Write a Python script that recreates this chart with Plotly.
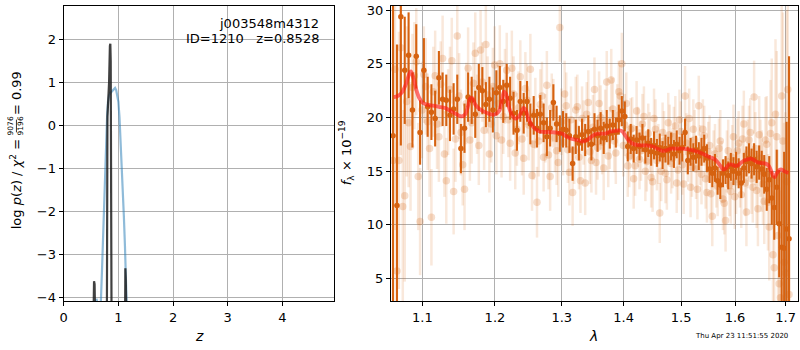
import plotly.graph_objects as go
from plotly.subplots import make_subplots

# ---------------- left panel: redshift fit ----------------
pz_z = [0.58, 0.60, 0.64, 0.68, 0.70, 0.72, 0.74, 0.76, 0.78, 0.795, 0.81, 0.83, 0.86, 0.89, 0.92, 0.94,
        0.96, 0.98, 1.00, 1.02, 1.04, 1.06, 1.08, 1.10, 1.12, 1.14, 1.15]
pz_logp = [-4.3, -4.04, -4.3, -4.1, -3.4, -2.5, -1.6, -0.8, -0.1, 0.25, 0.55, 0.70, 0.76, 0.80, 0.86, 0.87,
           0.82, 0.72, 0.55, 0.20, -0.30, -0.90, -1.50, -2.10, -2.80, -3.60, -4.10]

chi_z = [0.545, 0.555, 0.565, 0.575, 0.79, 0.80, 0.83, 0.845, 0.8528, 0.86, 0.875, 1.122, 1.128, 1.136, 1.145]
chi_logp = [-4.5, -3.63, -3.70, -4.5, -4.5, 0.2, 1.0, 1.85, 1.90, 1.5, -4.5, -4.5, -3.33, -3.6, -4.5]

# ---------------- right panel: spectrum ----------------
lam = [1.062, 1.067, 1.072, 1.077, 1.082, 1.087, 1.092, 1.097, 1.102, 1.107, 1.112, 1.117, 1.122, 1.127,
       1.132, 1.137, 1.142, 1.147, 1.152, 1.157, 1.162, 1.167, 1.172, 1.177, 1.182, 1.187, 1.192, 1.197,
       1.202, 1.207, 1.212, 1.217, 1.222, 1.227, 1.232, 1.237, 1.242, 1.247, 1.252, 1.257, 1.262, 1.267,
       1.272, 1.277, 1.282, 1.287, 1.292, 1.297, 1.302, 1.307, 1.312, 1.317, 1.322, 1.327, 1.332, 1.337,
       1.342, 1.347, 1.352, 1.357, 1.362, 1.367, 1.372, 1.377, 1.382, 1.387, 1.392, 1.397, 1.402, 1.407,
       1.412, 1.417, 1.422, 1.427, 1.432, 1.437, 1.442, 1.447, 1.452, 1.457, 1.462, 1.467, 1.472, 1.477,
       1.482, 1.487, 1.492, 1.497, 1.502, 1.507, 1.512, 1.517, 1.522, 1.527, 1.532, 1.537, 1.542, 1.547,
       1.552, 1.557, 1.562, 1.567, 1.572, 1.577, 1.582, 1.587, 1.592, 1.597, 1.602, 1.607, 1.612, 1.617,
       1.622, 1.627, 1.632, 1.637, 1.642, 1.647, 1.652, 1.657, 1.662, 1.667, 1.672, 1.677, 1.682, 1.687,
       1.692, 1.697, 1.702, 1.707]

flux_bin = [18.3, 11.8, 29.4, 24.4, 25.8, 20.7, 25.7, 18.6, 24.4, 21.0, 20.5, 19.9, 23.7, 21.7,
            21.6, 20.2, 20.8, 21.7, 17.1, 19.0, 21.9, 21.6, 20.3, 22.8, 22.5, 21.2, 21.7, 20.7,
            22.3, 22.8, 21.5, 23.0, 21.8, 20.4, 18.8, 21.5, 20.4, 21.5, 19.4, 20.2, 19.0, 20.3,
            19.5, 18.2, 19.0, 21.4, 19.4, 18.5, 18.9, 18.8, 18.3, 15.7, 18.2, 17.6, 18.4, 17.9,
            18.7, 17.5, 18.9, 18.3, 19.0, 18.1, 19.2, 18.5, 19.3, 18.6, 19.8, 20.6, 20.1, 17.3,
            18.0, 17.1, 17.9, 17.3, 18.1, 17.0, 17.6, 16.8, 17.4, 16.7, 17.2, 16.5, 17.1, 16.9,
            17.3, 16.6, 17.5, 16.9, 17.2, 18.6, 16.0, 16.8, 16.3, 17.0, 16.4, 16.8, 17.1, 16.2,
            15.2, 14.8, 15.3, 14.1, 13.7, 14.8, 15.1, 14.6, 15.4, 15.0, 15.5, 14.8, 13.9, 15.3,
            15.9, 16.2, 15.7, 16.1, 15.4, 15.8, 15.2, 14.7, 13.3, 14.2, 12.5, 11.6, 13.5, 10.1,
            7.9, 7.8, 9.6, 8.7]
err_bin = [16, 15, 12, 5, 4, 3.5, 3, 3, 3, 2.8, 2.6, 2.6, 2.5, 2.5,
           2.4, 2.4, 2.4, 2.3, 2.3, 2.3, 2.3, 2.2, 2.2, 2.2, 2.2, 2.1, 2.1, 2.1,
           2.1, 2.0, 2.0, 2.0, 2.0, 2.0, 1.9, 1.9, 1.9, 1.9, 1.9, 1.8, 1.8, 1.8,
           1.8, 1.8, 1.7, 1.7, 1.7, 1.7, 1.7, 1.6, 1.6, 1.6, 1.6, 1.6, 1.5, 1.5,
           1.5, 1.5, 1.5, 1.5, 1.5, 1.5, 1.5, 1.4, 1.4, 1.4, 1.4, 1.4, 1.4, 1.4,
           1.4, 1.3, 1.3, 1.3, 1.3, 1.3, 1.3, 1.3, 1.3, 1.3, 1.3, 1.3, 1.3, 1.3,
           1.3, 1.3, 1.3, 1.3, 1.3, 1.3, 1.3, 1.3, 1.3, 1.3, 1.3, 1.3, 1.3, 1.3,
           1.3, 1.3, 1.3, 1.3, 1.3, 1.3, 1.3, 1.3, 1.3, 1.3, 1.3, 1.4, 1.4, 1.4,
           1.4, 1.4, 1.4, 1.5, 1.5, 1.6, 1.7, 1.8, 2.0, 2.2, 2.5, 3.0, 3.5, 5.0,
           7.0, 9.0, 10.0, 17.0]

flux_a = [16.0, 5.7, 26.5, 12.7, 19.5, 22.8, 25.2, 10.3, 24.0, 19.6, 10.7, 23.9, 18.2, 25.5,
          14.1, 22.6, 13.1, 27.6, 18.6, 13.3, 24.6, 19.5, 26.0, 17.4, 23.3, 26.8, 16.6, 22.9,
          18.3, 25.0, 20.1, 24.4, 17.6, 22.2, 18.9, 23.8, 16.2, 21.6, 24.5, 17.5, 12.1, 21.2,
          16.3, 23.0, 14.5, 20.4, 16.9, 28.4, 17.7, 21.1, 14.9, 13.0, 20.7, 16.3, 19.9, 13.9,
          21.4, 16.0, 22.6, 17.2, 20.0, 15.3, 23.3, 18.1, 20.8, 16.7, 22.4, 25.0, 19.3, 15.5,
          18.9, 14.3, 20.6, 16.1, 19.4, 15.0, 18.5, 14.4, 19.9, 16.0, 11.1, 18.6, 14.8, 19.5,
          15.7, 18.2, 13.9, 19.8, 15.6, 22.0, 16.8, 13.5, 18.9, 15.2, 21.1, 14.7, 18.3, 13.0,
          17.4, 10.8, 16.6, 13.6, 17.8, 12.4, 10.4, 16.9, 13.1, 18.2, 14.0, 17.6, 12.8, 19.4,
          11.2, 17.9, 14.3, 21.9, 13.2, 18.4, 15.0, 12.2, 17.5, 9.8, 19.5, 6.0, 18.2, 4.5,
          22.0, 6.5, 14.0, 3.5]
err_a = [14, 12, 10, 8, 6, 5, 5, 5, 4.5, 4.5, 4.5, 4.2, 4.2, 4,
         4, 4, 4, 4, 4, 3.8, 3.8, 3.8, 3.8, 3.7, 3.7, 3.7, 3.6, 3.6,
         3.6, 3.6, 3.5, 3.5, 3.5, 3.5, 3.4, 3.4, 3.4, 3.4, 3.3, 3.3, 3.3, 3.3,
         3.2, 3.2, 3.2, 3.2, 3.2, 3.2, 3.1, 3.1, 3.1, 3.1, 3.1, 3.0, 3.0, 3.0,
         3.0, 3.0, 3.0, 3.0, 3.0, 3.0, 2.9, 2.9, 2.9, 2.9, 2.9, 2.9, 2.9, 2.9,
         2.9, 2.8, 2.8, 2.8, 2.8, 2.8, 2.8, 2.8, 2.8, 2.8, 2.8, 2.8, 2.8, 2.8,
         2.8, 2.8, 2.8, 2.8, 2.8, 2.8, 2.8, 2.8, 2.8, 2.8, 2.8, 2.8, 2.8, 2.8,
         2.8, 2.8, 2.8, 2.8, 2.9, 2.9, 2.9, 2.9, 3.0, 3.0, 3.0, 3.0, 3.1, 3.1,
         3.2, 3.2, 3.3, 3.4, 3.5, 3.6, 3.8, 4, 4.5, 5, 6, 7, 8, 9,
         11, 13, 16, 18]

lam_b = [1.0645, 1.0695, 1.0745, 1.0795, 1.0845, 1.0895, 1.0945, 1.0995, 1.1045, 1.1095, 1.1145,
         1.1195, 1.1245, 1.1295, 1.1345, 1.1395, 1.1445, 1.1495, 1.1545, 1.1595, 1.1645, 1.1695,
         1.1745, 1.1795, 1.1845, 1.1895, 1.1945, 1.1995, 1.2045, 1.2095, 1.2145, 1.2195, 1.2245,
         1.2295, 1.2345, 1.2395, 1.2445, 1.2495, 1.2545, 1.2595, 1.2645, 1.2695, 1.2745, 1.2795,
         1.2845, 1.2895, 1.2945, 1.2995, 1.3045, 1.3095, 1.3145, 1.3195, 1.3245, 1.3295, 1.3345,
         1.3395, 1.3445, 1.3495, 1.3545, 1.3595, 1.3645, 1.3695, 1.3745, 1.3795, 1.3845, 1.3895,
         1.3945, 1.3995, 1.4045, 1.4095, 1.4145, 1.4195, 1.4245, 1.4295, 1.4345, 1.4395, 1.4445,
         1.4495, 1.4545, 1.4595, 1.4645, 1.4695, 1.4745, 1.4795, 1.4845, 1.4895, 1.4945, 1.4995,
         1.5045, 1.5095, 1.5145, 1.5195, 1.5245, 1.5295, 1.5345, 1.5395, 1.5445, 1.5495, 1.5545,
         1.5595, 1.5645, 1.5695, 1.5745, 1.5795, 1.5845, 1.5895, 1.5945, 1.5995, 1.6045, 1.6095,
         1.6145, 1.6195, 1.6245, 1.6295, 1.6345, 1.6395, 1.6445, 1.6495, 1.6545, 1.6595, 1.6645,
         1.6695, 1.6745, 1.6795, 1.6845, 1.6895, 1.6945, 1.6995, 1.7045]
flux_b = [24.5, 16.0, 11.7, 21.5, 17.3, 23.9, 14.5, 20.7, 22.9, 17.1, 22.4,
          19.4, 23.1, 16.6, 20.5, 25.3, 18.0, 22.0, 15.6, 21.3, 17.9, 23.2,
          20.3, 26.3, 18.8, 22.1, 19.4, 24.9, 21.3, 17.9, 22.9, 19.8, 24.6,
          16.7, 20.9, 18.0, 22.7, 19.3, 14.6, 20.4, 17.8, 22.0, 19.0, 16.5,
          20.9, 18.1, 15.8, 19.6, 22.2, 17.0, 19.8, 16.9, 21.0, 14.1, 18.6,
          20.3, 16.8, 19.1, 15.8, 21.3, 17.7, 19.6, 16.4, 23.5, 17.8, 20.2,
          22.0, 17.4, 21.3, 16.4, 19.0, 15.5, 18.2, 16.9, 20.1, 15.9, 17.7,
          14.0, 18.9, 16.6, 15.0, 17.8, 14.2, 18.4, 16.2, 19.2, 15.1, 18.7,
          13.8, 17.6, 19.9, 15.4, 17.9, 13.3, 16.5, 18.9, 14.3, 16.8, 12.9,
          16.0, 14.4, 17.1, 14.9, 12.0, 15.9, 13.7, 16.3, 12.6, 16.9, 14.6,
          18.0, 13.9, 16.6, 18.6, 13.5, 17.1, 11.5, 16.2, 13.8, 17.9, 12.1,
          18.5, 7.2, 20.3, 9.0, 3.2, 17.8, 5.5, 22.6]
err_b = [15, 12, 9, 7, 6, 5, 5, 4.5, 4.5, 4.5, 4.2,
         4.2, 4, 4, 4, 4, 4, 4, 3.8, 3.8, 3.8, 3.8,
         3.7, 3.7, 3.7, 3.6, 3.6, 3.6, 3.6, 3.5, 3.5, 3.5, 3.5,
         3.4, 3.4, 3.4, 3.4, 3.3, 3.3, 3.3, 3.3, 3.2, 3.2, 3.2,
         3.2, 3.2, 3.2, 3.1, 3.1, 3.1, 3.1, 3.1, 3.0, 3.0, 3.0,
         3.0, 3.0, 3.0, 3.0, 3.0, 3.0, 3.0, 2.9, 2.9, 2.9, 2.9,
         2.9, 2.9, 2.9, 2.9, 2.9, 2.8, 2.8, 2.8, 2.8, 2.8, 2.8,
         2.8, 2.8, 2.8, 2.8, 2.8, 2.8, 2.8, 2.8, 2.8, 2.8, 2.8,
         2.8, 2.8, 2.8, 2.8, 2.8, 2.8, 2.8, 2.8, 2.8, 2.8, 2.8,
         2.8, 2.8, 2.8, 2.9, 2.9, 2.9, 2.9, 3.0, 3.0, 3.0, 3.0,
         3.1, 3.1, 3.2, 3.2, 3.3, 3.4, 3.5, 3.6, 3.8, 4, 4.5,
         5, 6, 7, 8, 10, 12, 15, 17]

model_lam = [1.063, 1.068, 1.073, 1.078, 1.082, 1.085, 1.088, 1.092, 1.096, 1.100, 1.106, 1.114, 1.122,
             1.130, 1.138, 1.146, 1.153, 1.158, 1.162, 1.165, 1.168, 1.172, 1.178, 1.186, 1.194, 1.201,
             1.206, 1.210, 1.213, 1.216, 1.220, 1.225, 1.230, 1.235, 1.239, 1.242, 1.245, 1.249, 1.254,
             1.260, 1.266, 1.272, 1.280, 1.290, 1.300, 1.308, 1.316, 1.325, 1.333, 1.340, 1.347, 1.354,
             1.362, 1.370, 1.378, 1.386, 1.393, 1.398, 1.403, 1.408, 1.414, 1.422, 1.430, 1.440, 1.450,
             1.458, 1.466, 1.474, 1.482, 1.490, 1.500, 1.510, 1.520, 1.530, 1.540, 1.550, 1.558, 1.566,
             1.572, 1.578, 1.583, 1.588, 1.594, 1.600, 1.606, 1.612, 1.618, 1.625, 1.632, 1.638, 1.645,
             1.652, 1.660, 1.666, 1.671, 1.675, 1.678, 1.682, 1.687, 1.692, 1.697, 1.702, 1.706]
model_flux = [21.9, 22.0, 22.3, 23.0, 23.9, 24.3, 23.8, 22.6, 21.8, 21.4, 21.2, 21.1, 21.0,
              20.9, 20.6, 20.3, 20.1, 20.3, 21.1, 21.8, 21.8, 21.2, 20.8, 20.5, 20.3, 20.3,
              20.6, 21.6, 22.4, 22.2, 21.0, 20.2, 19.9, 20.1, 20.6, 20.9, 20.7, 19.9, 19.3,
              18.9, 18.7, 18.65, 18.65, 18.6, 18.5, 18.2, 18.0, 17.9, 17.75, 17.9, 18.2, 18.45,
              18.5, 18.5, 18.7, 18.75, 18.8, 18.7, 18.3, 17.9, 17.6, 17.45, 17.4, 17.4, 17.3,
              17.1, 16.9, 16.95, 17.1, 17.1, 17.1, 17.05, 16.95, 16.8, 16.6, 16.35, 16.2, 15.9,
              15.5, 15.15, 15.3, 15.6, 15.6, 15.5, 15.55, 15.8, 16.0, 16.1, 16.15, 16.0, 15.8,
              15.75, 15.7, 15.5, 15.0, 14.55, 14.45, 14.8, 15.1, 15.15, 15.0, 14.9, 14.85]

lam_ticks = [1.1, 1.2, 1.3, 1.4, 1.5, 1.6, 1.7]
lam_ticktext = ["1.1", "1.2", "1.3", "1.4", "1.5", "1.6", "1.7"]

obj_name = "j003548m4312"
obj_info = "ID=1210   z=0.8528"
stamp = "Thu Apr 23 11:51:55 2020"
ylab_main = "log <i>p</i>(<i>z</i>) / <i>χ</i><sup>2</sup> ="
ylab_frac = "9076<br>9196"
ylab_end = "= 0.99"

ORANGE = "rgb(214,98,16)"
FAINT_M = "rgba(214,98,16,0.22)"
FAINT_E = "rgba(214,98,16,0.15)"
FONT = "DejaVu Sans"

fig = make_subplots(rows=1, cols=2)

fig.add_trace(go.Scatter(x=pz_z, y=pz_logp, mode="lines",
                         line=dict(color="rgba(31,119,180,0.5)", width=2.2),
                         showlegend=False), row=1, col=1)
fig.add_trace(go.Scatter(x=chi_z, y=chi_logp, mode="lines",
                         line=dict(color="rgba(30,30,30,0.85)", width=2.2),
                         showlegend=False), row=1, col=1)

for lx, fy, ey in [(lam, flux_a, err_a), (lam_b, flux_b, err_b)]:
    fig.add_trace(go.Scatter(x=lx, y=fy, mode="markers",
                             marker=dict(color=FAINT_M, size=7.5),
                             error_y=dict(type="data", array=ey, color=FAINT_E, thickness=2.5, width=0),
                             showlegend=False), row=1, col=2)

fig.add_trace(go.Scatter(x=lam, y=flux_bin, mode="markers",
                         marker=dict(color=ORANGE, size=5.5),
                         error_y=dict(type="data", array=err_bin, color=ORANGE, thickness=2.1, width=0),
                         showlegend=False), row=1, col=2)

fig.add_trace(go.Scatter(x=model_lam, y=model_flux, mode="lines",
                         line=dict(color="rgba(255,25,25,0.62)", width=3.8, shape="spline"),
                         showlegend=False), row=1, col=2)

axis_common = dict(showline=True, linecolor="black", linewidth=1.2, mirror=True,
                   ticks="outside", ticklen=4, tickcolor="black", tickwidth=1,
                   showgrid=True, gridcolor="#b0b0b0", gridwidth=1, zeroline=False,
                   ticklabeloverflow="allow",
                   tickfont=dict(family=FONT, size=13, color="black"))

fig.update_xaxes(axis_common, row=1, col=1, range=[0, 4.95], tickvals=[0, 1, 2, 3, 4],
                 domain=[60 / 800, 332 / 800])
fig.update_yaxes(axis_common, row=1, col=1, range=[-4.09, 2.78], tickvals=[-4, -3, -2, -1, 0, 1, 2],
                 domain=[46 / 350, 347 / 350])
fig.update_xaxes(axis_common, row=1, col=2, type="log", range=[0.0251, 0.2369],
                 tickvals=lam_ticks, ticktext=lam_ticktext, domain=[389 / 800, 798 / 800])
fig.update_yaxes(axis_common, row=1, col=2, range=[2.9, 30.4], tickvals=[5, 10, 15, 20, 25, 30],
                 domain=[46 / 350, 347 / 350])

ann = [
    dict(text=obj_name, x=319 / 800, y=(350 - 21) / 350, xanchor="right", yanchor="middle",
         font=dict(family=FONT, size=13, color="black")),
    dict(text=obj_info, x=319 / 800, y=(350 - 36) / 350, xanchor="right", yanchor="middle",
         font=dict(family=FONT, size=13, color="black")),
    dict(text="<i>z</i>", x=196 / 800, y=(350 - 340) / 350, xanchor="center", yanchor="middle",
         font=dict(family=FONT, size=14, color="black")),
    dict(text="<i>λ</i>", x=592 / 800, y=(350 - 340) / 350, xanchor="center", yanchor="middle",
         font=dict(family=FONT, size=14, color="black")),
    dict(text=ylab_main, x=12 / 800, y=(350 - 185) / 350, xanchor="center", yanchor="middle",
         textangle=-90, font=dict(family=FONT, size=13, color="black")),
    dict(text=ylab_frac, x=12 / 800, y=(350 - 125) / 350, xanchor="center", yanchor="middle",
         textangle=-90, font=dict(family=FONT, size=7.5, color="black")),
    dict(text=ylab_end, x=12 / 800, y=(350 - 92) / 350, xanchor="center", yanchor="middle",
         textangle=-90, font=dict(family=FONT, size=13, color="black")),
    dict(text="<i>f</i><sub>λ</sub> × 10<sup>−19</sup>", x=344 / 800, y=(350 - 153) / 350,
         xanchor="center", yanchor="middle", textangle=-90,
         font=dict(family=FONT, size=13, color="black")),
    dict(text=stamp, x=741 / 800, y=(350 - 340) / 350, xanchor="center", yanchor="middle",
         font=dict(family=FONT, size=7, color="black")),
]
for a in ann:
    a.update(xref="paper", yref="paper", showarrow=False)

fig.update_layout(width=800, height=350, margin=dict(l=0, r=0, t=0, b=0),
                  paper_bgcolor="white", plot_bgcolor="white", annotations=ann,
                  font=dict(family=FONT),
                  shapes=[dict(type="line", xref="paper", yref="paper",
                               x0=12.5 / 800, x1=12.5 / 800, y0=(350 - 119) / 350, y1=(350 - 132) / 350,
                               line=dict(color="black", width=0.8))])

fig.write_html("out.html", config={"displayModeBar": False},
               post_script="document.body.style.margin='0px';document.body.style.padding='0px';"
                           "document.body.style.overflow='hidden';")
